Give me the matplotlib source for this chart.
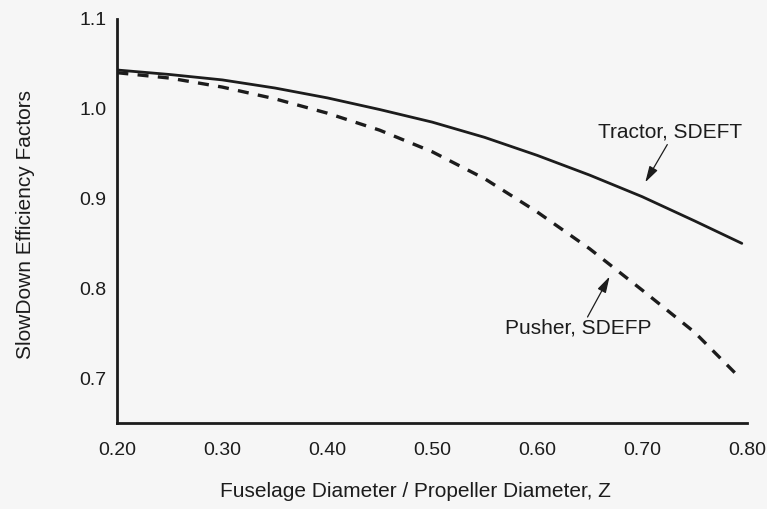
import numpy as np
import matplotlib
matplotlib.use("Agg")
import matplotlib.pyplot as plt

plt.rcParams['font.family'] = ['Liberation Sans', 'DejaVu Sans']

# values
tractor_z = [0.20, 0.25, 0.30, 0.35, 0.40, 0.45, 0.50, 0.55, 0.60, 0.65, 0.70, 0.75, 0.795]
tractor = [1.043, 1.038, 1.032, 1.023, 1.012, 0.999, 0.985, 0.968, 0.948, 0.926, 0.902, 0.875, 0.850]
pusher_z = [0.20, 0.25, 0.30, 0.35, 0.40, 0.45, 0.50, 0.55, 0.60, 0.65, 0.70, 0.75, 0.79]
pusher = [1.040, 1.034, 1.024, 1.011, 0.995, 0.976, 0.952, 0.922, 0.885, 0.844, 0.798, 0.751, 0.704]

x_ticks = [0.20, 0.30, 0.40, 0.50, 0.60, 0.70, 0.80]
y_ticks = [0.7, 0.8, 0.9, 1.0, 1.1]

ink = '#1c1c1c'
bg = '#f6f6f6'

fig = plt.figure(figsize=(7.67, 5.09), dpi=100, facecolor=bg)
ax = fig.add_axes([0.153, 0.169, 0.821, 0.794])
ax.set_facecolor(bg)

ax.plot(tractor_z, tractor, color=ink, lw=2.0, solid_capstyle='round', solid_joinstyle='round')
ax.plot(pusher_z, pusher, color=ink, lw=2.4, linestyle=(0, (3.3, 2.8)))

ax.set_xlim(0.2, 0.8)
ax.set_ylim(0.65, 1.1)
ax.set_xticks(x_ticks)
ax.set_xticklabels([f'{v:.2f}' for v in x_ticks])
ax.set_yticks(y_ticks)
ax.set_yticklabels([f'{v:.1f}' for v in y_ticks])
ax.tick_params(length=0, labelsize=14, colors=ink)
ax.tick_params(axis='x', pad=14)
ax.tick_params(axis='y', pad=8)

for s in ['top', 'right']:
    ax.spines[s].set_visible(False)
for s in ['left', 'bottom']:
    ax.spines[s].set_linewidth(2.0)
    ax.spines[s].set_color(ink)

ax.set_xlabel('Fuselage Diameter / Propeller Diameter, Z', fontsize=15, color=ink)
ax.xaxis.set_label_coords(0.473, -0.145)
ax.set_ylabel('SlowDown Efficiency Factors', fontsize=15, color=ink)
ax.yaxis.set_label_coords(-0.130, 0.49)

arrow = dict(arrowstyle='-|>,head_length=0.7,head_width=0.2', color=ink, lw=0.9,
             mutation_scale=14, shrinkA=0, shrinkB=0)
ax.text(0.658, 0.974, 'Tractor, SDEFT', fontsize=15, color=ink, ha='left', va='center')
ax.annotate('', xy=(0.703, 0.918), xytext=(0.724, 0.960), arrowprops=arrow)
ax.text(0.569, 0.756, 'Pusher, SDEFP', fontsize=15, color=ink, ha='left', va='center')
ax.annotate('', xy=(0.669, 0.813), xytext=(0.648, 0.768), arrowprops=arrow)

fig.savefig('out.png', dpi=100, facecolor=bg)
